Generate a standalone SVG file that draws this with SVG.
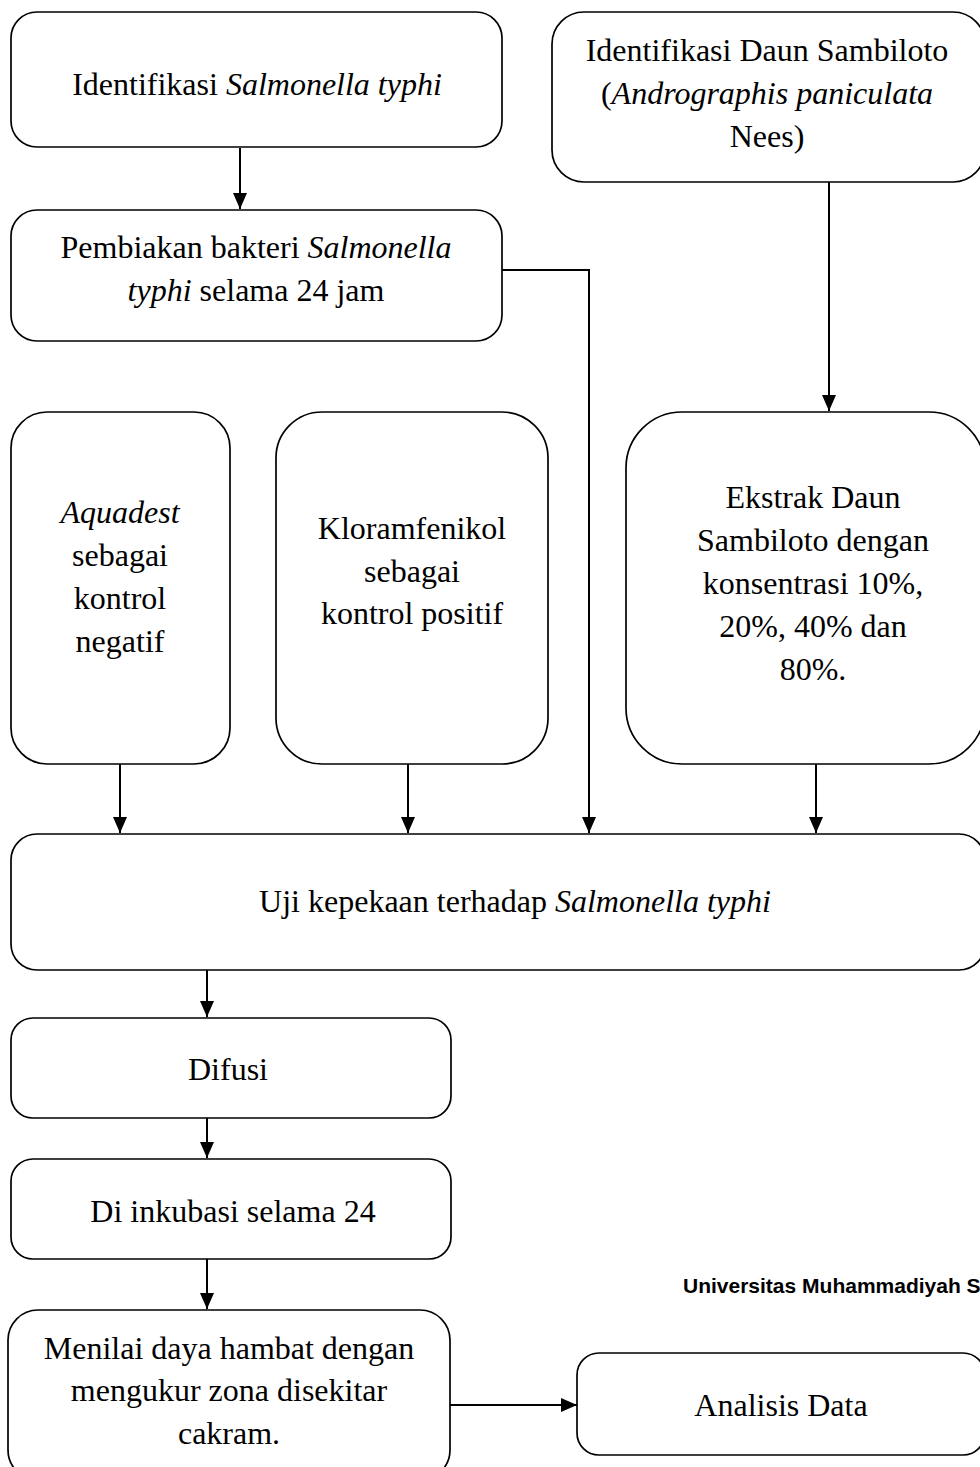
<svg xmlns="http://www.w3.org/2000/svg" width="980" height="1467" viewBox="0 0 980 1467">
<style>
.box{fill:#fff;stroke:#000;stroke-width:1.7}
.t{font-family:"Liberation Serif","Times New Roman",serif;font-size:32px;fill:#000;text-anchor:middle}
.i{font-style:italic}
.c{fill:none;stroke:#000;stroke-width:2}
.wm{font-family:"Liberation Sans",Arial,sans-serif;font-size:21px;font-weight:bold;fill:#000}
</style>
<defs>
<marker id="ah" markerWidth="16" markerHeight="14" viewBox="0 0 16 14" refX="16" refY="7" orient="auto" markerUnits="userSpaceOnUse">
<path d="M0,0 L16,7 L0,14 z" fill="#000"/>
</marker>
</defs>
<rect width="980" height="1467" fill="#fff"/>
<g id="connectors">
<path class="c" d="M240,148 V209" marker-end="url(#ah)"/>
<path class="c" d="M829,182 V411" marker-end="url(#ah)"/>
<path class="c" d="M502,270 H589 V833" marker-end="url(#ah)"/>
<path class="c" d="M120,764 V833" marker-end="url(#ah)"/>
<path class="c" d="M408,764 V833" marker-end="url(#ah)"/>
<path class="c" d="M816,764 V833" marker-end="url(#ah)"/>
<path class="c" d="M207,970 V1017" marker-end="url(#ah)"/>
<path class="c" d="M207,1118 V1158" marker-end="url(#ah)"/>
<path class="c" d="M207,1259 V1309" marker-end="url(#ah)"/>
<path class="c" d="M450,1405 H577" marker-end="url(#ah)"/>
</g>
<g id="n1">
<rect class="box" x="11" y="12" width="491" height="135" rx="26"/>
<text class="t" x="257" y="95">Identifikasi <tspan class="i">Salmonella typhi</tspan></text>
</g>
<g id="n2">
<rect class="box" x="11" y="210" width="491" height="131" rx="26"/>
<text class="t" x="256" y="258">Pembiakan bakteri <tspan class="i">Salmonella</tspan></text>
<text class="t" x="256" y="301"><tspan class="i">typhi</tspan> selama 24 jam</text>
</g>
<g id="n3">
<rect class="box" x="552" y="12" width="433" height="170" rx="32"/>
<text class="t" x="767" y="61">Identifikasi Daun Sambiloto</text>
<text class="t" x="767" y="104">(<tspan class="i">Andrographis paniculata</tspan></text>
<text class="t" x="767" y="147">Nees)</text>
</g>
<g id="n4">
<rect class="box" x="11" y="412" width="219" height="352" rx="36"/>
<text class="t i" x="120" y="523">Aquadest</text>
<text class="t" x="120" y="566">sebagai</text>
<text class="t" x="120" y="609">kontrol</text>
<text class="t" x="120" y="652">negatif</text>
</g>
<g id="n5">
<rect class="box" x="276" y="412" width="272" height="352" rx="46"/>
<text class="t" x="412" y="539">Kloramfenikol</text>
<text class="t" x="412" y="582">sebagai</text>
<text class="t" x="412" y="624">kontrol positif</text>
</g>
<g id="n6">
<rect class="box" x="626" y="412" width="359" height="352" rx="56"/>
<text class="t" x="813" y="508">Ekstrak Daun</text>
<text class="t" x="813" y="551">Sambiloto dengan</text>
<text class="t" x="813" y="594">konsentrasi 10%,</text>
<text class="t" x="813" y="637">20%, 40% dan</text>
<text class="t" x="813" y="680">80%.</text>
</g>
<g id="n7">
<rect class="box" x="11" y="834" width="974" height="136" rx="26"/>
<text class="t" x="515" y="912">Uji kepekaan terhadap <tspan class="i">Salmonella typhi</tspan></text>
</g>
<g id="n8">
<rect class="box" x="11" y="1018" width="440" height="100" rx="22"/>
<text class="t" x="228" y="1080">Difusi</text>
</g>
<g id="n9">
<rect class="box" x="11" y="1159" width="440" height="100" rx="22"/>
<text class="t" x="233" y="1222">Di inkubasi selama 24</text>
</g>
<g id="n10">
<rect class="box" x="8" y="1310" width="442" height="170" rx="30"/>
<text class="t" x="229" y="1359">Menilai daya hambat dengan</text>
<text class="t" x="229" y="1401">mengukur zona disekitar</text>
<text class="t" x="229" y="1444">cakram.</text>
</g>
<g id="n11">
<rect class="box" x="577" y="1353" width="408" height="102" rx="22"/>
<text class="t" x="781" y="1416">Analisis Data</text>
</g>
<text class="wm" x="683" y="1293">Universitas Muhammadiyah S</text>
</svg>
